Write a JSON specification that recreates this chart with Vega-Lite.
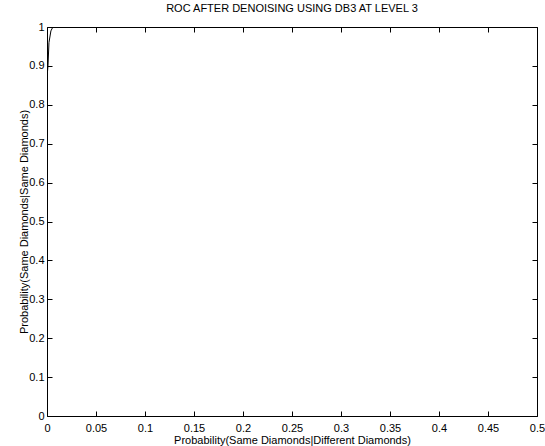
{
  "$schema": "https://vega.github.io/schema/vega-lite/v6.json",
  "width": 490,
  "height": 389,
  "autosize": {"type": "none"},
  "padding": {"left": 47, "top": 27, "right": 8, "bottom": 30},
  "background": "white",
  "config": {
    "view": {"stroke": "black", "strokeWidth": 1},
    "font": "Liberation Sans",
    "axis": {"grid": false, "domain": false, "tickColor": "black", "labelColor": "black", "titleColor": "black", "labelFont": "Liberation Sans", "titleFont": "Liberation Sans", "labelFontSize": 11, "titleFontSize": 11, "titleFontWeight": "normal", "tickSize": -5}
  },
  "title": {"text": "ROC AFTER DENOISING USING DB3 AT LEVEL 3", "fontSize": 11, "fontWeight": "normal", "font": "Liberation Sans", "color": "black", "offset": 7},
  "data": {"values": [
    {"fpr": 0, "tpr": 0},
    {"fpr": 0, "tpr": 0.87},
    {"fpr": 0.001, "tpr": 0.9},
    {"fpr": 0.002, "tpr": 0.96},
    {"fpr": 0.004, "tpr": 0.99},
    {"fpr": 0.006, "tpr": 1},
    {"fpr": 0.5, "tpr": 1}
  ]},
  "layer": [
    {
      "mark": {"type": "line", "color": "black", "strokeWidth": 1, "clip": true},
      "encoding": {
        "x": {"field": "fpr", "type": "quantitative", "scale": {"domain": [0, 0.5], "nice": false},
          "axis": {"orient": "bottom", "title": "Probability(Same Diamonds|Different Diamonds)", "format": "~g", "values": [0,0.05,0.1,0.15,0.2,0.25,0.3,0.35,0.4,0.45,0.5], "labelPadding": 11, "titlePadding": 1, "labelFlush": false, "labelOverlap": false}},
        "y": {"field": "tpr", "type": "quantitative", "scale": {"domain": [0, 1], "nice": false},
          "axis": {"orient": "left", "title": "Probability(Same Diamonds|Same Diamonds)", "format": "~g", "values": [0,0.1,0.2,0.3,0.4,0.5,0.6,0.7,0.8,0.9,1], "labelPadding": 8, "titlePadding": -1, "labelFlush": false, "labelOverlap": false}}
      }
    },
    {
      "mark": {"type": "line", "opacity": 0},
      "encoding": {
        "x": {"field": "fpr", "type": "quantitative", "axis": {"orient": "top", "title": null, "labels": false, "values": [0,0.05,0.1,0.15,0.2,0.25,0.3,0.35,0.4,0.45,0.5]}},
        "y": {"field": "tpr", "type": "quantitative", "axis": {"orient": "right", "title": null, "labels": false, "values": [0,0.1,0.2,0.3,0.4,0.5,0.6,0.7,0.8,0.9,1]}}
      }
    }
  ],
  "resolve": {"axis": {"x": "independent", "y": "independent"}}
}
